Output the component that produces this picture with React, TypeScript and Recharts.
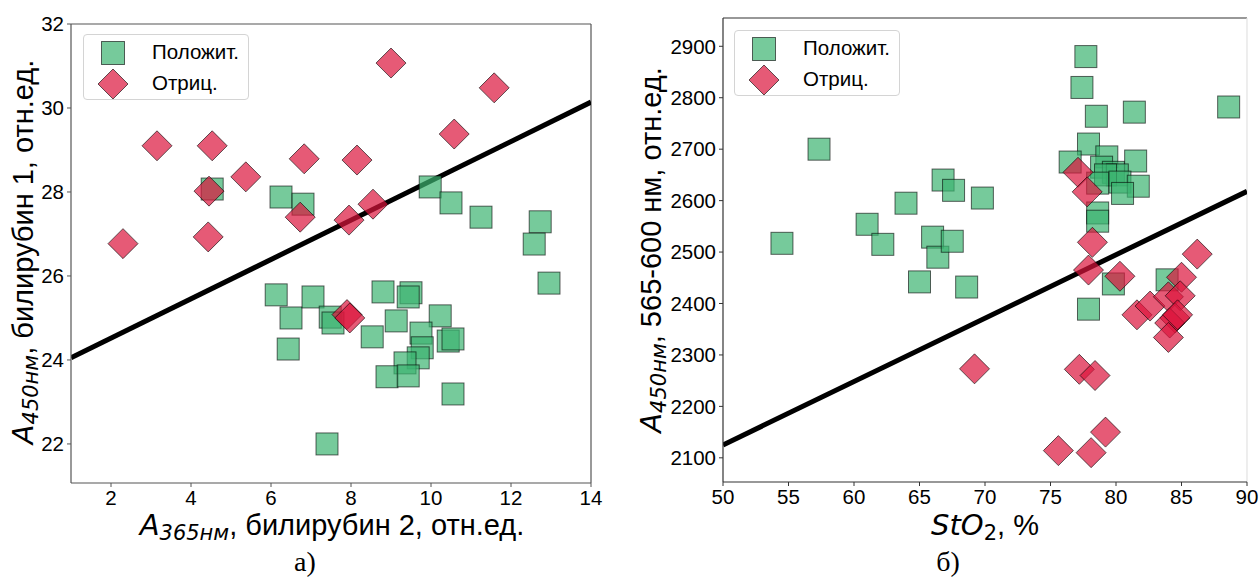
import React from 'react';
import { ScatterChart, Scatter, XAxis, YAxis, ReferenceLine, Legend } from 'recharts';

// ---------- data ----------
const SERIES_NAMES = ['Положит.', 'Отриц.'];

// panel а): [A365, A450]
const POS_A: [number, number][] = [
  [4.53, 28.07], [6.25, 27.88], [6.8, 27.71], [9.98, 28.12], [10.5, 27.74], [11.25, 27.4],
  [12.73, 27.29], [12.58, 26.76], [12.95, 25.83], [6.13, 25.55], [6.5, 25.0], [6.43, 24.26],
  [7.05, 25.5], [7.4, 22.0], [7.48, 25.02], [7.55, 24.88], [8.8, 25.62], [9.5, 25.6],
  [9.43, 25.5], [9.13, 24.93], [10.23, 25.05], [8.53, 24.55], [9.75, 24.64], [10.43, 24.45],
  [10.55, 24.5], [9.78, 24.29], [9.68, 24.05], [9.35, 23.93], [8.9, 23.6], [9.43, 23.62],
  [10.55, 23.19],
];
const NEG_A: [number, number][] = [
  [2.3, 26.77], [3.15, 29.1], [4.53, 29.1], [4.45, 28.02], [4.43, 26.93], [5.37, 28.36],
  [6.83, 28.79], [6.73, 27.4], [9.0, 31.07], [11.58, 30.48], [10.58, 29.38], [8.15, 28.76],
  [8.55, 27.71], [7.95, 27.33], [7.9, 25.08], [7.97, 25.0],
];
const FIT_A: [number, number][] = [[1, 24.05], [14, 30.14]];

// panel б): [StO2, A450 565-600]
const POS_B: [number, number][] = [
  [57.33, 2700], [54.5, 2517], [61.0, 2554], [62.2, 2515], [63.97, 2595], [65.0, 2442],
  [66.8, 2640], [67.6, 2620], [69.8, 2605], [66.0, 2529], [66.4, 2490], [67.5, 2521],
  [68.6, 2432], [77.7, 2880], [77.4, 2820], [78.5, 2764], [81.4, 2772], [88.6, 2782],
  [77.9, 2710], [76.5, 2675], [79.3, 2685], [81.5, 2677], [78.9, 2665], [79.8, 2655],
  [80.1, 2650], [79.2, 2650], [80.3, 2636], [81.7, 2628], [80.5, 2614], [78.6, 2634],
  [78.6, 2576], [78.6, 2560], [79.8, 2438], [83.9, 2446], [77.9, 2389],
];
const NEG_B: [number, number][] = [
  [77.1, 2655], [77.8, 2617], [78.2, 2519], [77.9, 2465], [80.3, 2453], [86.2, 2496],
  [85.0, 2451], [81.6, 2378], [82.6, 2395], [84.0, 2413], [84.9, 2415], [84.5, 2372],
  [84.1, 2362], [84.0, 2334], [84.7, 2378], [69.2, 2273], [77.2, 2272], [78.4, 2260],
  [79.2, 2150], [75.6, 2114], [78.1, 2110],
];
const FIT_B: [number, number][] = [[50, 2125], [90, 2618]];

const TICKS_AX = [2, 4, 6, 8, 10, 12, 14];
const TICKS_AY = [22, 24, 26, 28, 30, 32];
const TICKS_BX = [50, 55, 60, 65, 70, 75, 80, 85, 90];
const TICKS_BY = [2100, 2200, 2300, 2400, 2500, 2600, 2700, 2800, 2900];

// ---------- styles ----------
const GREEN = '#3cb371';
const RED = '#dc143c';
const SANS = '"Liberation Sans", Arial, sans-serif';
const MATH = '"DejaVu Sans", sans-serif';

const toPts = (arr: [number, number][]) => arr.map(([x, y]) => ({ x, y }));

const SquareShape = (props: any) => {
  const { cx, cy } = props;
  if (cx == null || cy == null) return null;
  const h = 11;
  return (
    <rect x={cx - h} y={cy - h} width={2 * h} height={2 * h}
      fill={GREEN} fillOpacity={0.7} stroke="#000" strokeOpacity={0.6} strokeWidth={1} />
  );
};
const DiamondShape = (props: any) => {
  const { cx, cy } = props;
  if (cx == null || cy == null) return null;
  const r = 15;
  return (
    <polygon points={`${cx},${cy - r} ${cx + r},${cy} ${cx},${cy + r} ${cx - r},${cy}`}
      fill={RED} fillOpacity={0.7} stroke="#000" strokeOpacity={0.6} strokeWidth={1} />
  );
};

const LegendBox = () => (
  <div style={{
    border: '1px solid #d4d4d4', borderRadius: 4, background: 'rgba(255,255,255,0.85)',
    width: 166, height: 66, position: 'relative', boxSizing: 'border-box',
    fontFamily: SANS, fontSize: 20.5, color: '#000',
  }}>
    <svg width={60} height={66} style={{ position: 'absolute', left: 0, top: 0 }}>
      <rect x={29 - 11.5} y={18 - 11.5} width={23} height={23} fill={GREEN} fillOpacity={0.7}
        stroke="#000" strokeOpacity={0.6} />
      <polygon points="29,34 44,49 29,64 14,49" fill={RED} fillOpacity={0.7}
        stroke="#000" strokeOpacity={0.6} />
    </svg>
    <div style={{ position: 'absolute', left: 68, top: 5, lineHeight: '24px', whiteSpace: 'nowrap' }}>{SERIES_NAMES[0]}</div>
    <div style={{ position: 'absolute', left: 68, top: 36, lineHeight: '24px', whiteSpace: 'nowrap' }}>{SERIES_NAMES[1]}</div>
  </div>
);

const tickStyle = { fontFamily: SANS, fontSize: 20.5, fill: '#000' };

type PanelProps = {
  width: number; height: number; margin: any;
  pos: [number, number][]; neg: [number, number][]; fit: [number, number][];
  xDomain: [number, number]; yDomain: [number, number];
  xTicks: number[]; yTicks: number[];
  frame: string; rightFrame: string; legendPos: { left: number; top: number };
};

const Panel = (p: PanelProps) => (
  <ScatterChart width={p.width} height={p.height} margin={p.margin}>
    <XAxis type="number" dataKey="x" domain={p.xDomain} ticks={p.xTicks} allowDataOverflow
      height={30} tickSize={4} tickMargin={3} tick={tickStyle}
      axisLine={{ stroke: p.frame, strokeWidth: 1.2 }} tickLine={{ stroke: p.frame }} />
    <YAxis type="number" dataKey="y" domain={p.yDomain} ticks={p.yTicks} allowDataOverflow
      width={60} tickSize={4} tickMargin={3} tick={tickStyle}
      axisLine={{ stroke: p.frame, strokeWidth: 1.2 }} tickLine={{ stroke: p.frame }} />
    <ReferenceLine y={p.yDomain[1]} stroke={p.frame} strokeWidth={1.2} />
    <ReferenceLine x={p.xDomain[1]} stroke={p.rightFrame} strokeWidth={1.2} />
    <Scatter name={SERIES_NAMES[0]} data={toPts(p.pos)} fill={GREEN} shape={SquareShape} isAnimationActive={false} />
    <Scatter name={SERIES_NAMES[1]} data={toPts(p.neg)} fill={RED} shape={DiamondShape} isAnimationActive={false} />
    <ReferenceLine segment={toPts(p.fit)} stroke="#000" strokeWidth={5} ifOverflow="hidden" />
    <Legend layout="vertical" align="center" verticalAlign="middle" content={() => <LegendBox />}
      wrapperStyle={{ left: p.legendPos.left, top: p.legendPos.top, width: 'auto', height: 'auto' }} />
  </ScatterChart>
);

const mathItalic: React.CSSProperties = { fontFamily: MATH, fontStyle: 'italic' };
const labelStyle: React.CSSProperties = { position: 'absolute', whiteSpace: 'nowrap', fontFamily: SANS, fontSize: 29 };
const subStyle: React.CSSProperties = { ...mathItalic, fontSize: 21, verticalAlign: '-5px' };

export default function App() {
  return (
    <div style={{ position: 'absolute', left: 0, top: 0, width: 1259, height: 577, background: '#fff', overflow: 'hidden' }}>
      {/* panel а */}
      <div style={{ position: 'absolute', left: 0, top: 0 }}>
        <Panel width={620} height={520} margin={{ top: 24, right: 29, left: 11, bottom: 7 }}
          pos={POS_A} neg={NEG_A} fit={FIT_A} xDomain={[1, 14]} yDomain={[21.07, 32]}
          xTicks={TICKS_AX} yTicks={TICKS_AY} frame="#555" rightFrame="#555"
          legendPos={{ left: 83, top: 34 }} />
      </div>
      {/* panel б */}
      <div style={{ position: 'absolute', left: 640, top: 0 }}>
        <Panel width={619} height={520} margin={{ top: 18, right: 12, left: 23, bottom: 8 }}
          pos={POS_B} neg={NEG_B} fit={FIT_B} xDomain={[50, 90]} yDomain={[2053, 2955]}
          xTicks={TICKS_BX} yTicks={TICKS_BY} frame="#333" rightFrame="#e2e2e2"
          legendPos={{ left: 94, top: 30 }} />
      </div>

      {/* axis labels */}
      <div style={{ ...labelStyle, left: 332, top: 526, transform: 'translate(-50%,-50%)' }}>
        <span style={mathItalic}>A</span><sub style={subStyle}>365нм</sub>, билирубин 2, отн.ед.
      </div>
      <div style={{ ...labelStyle, left: 985, top: 526, transform: 'translate(-50%,-50%)' }}>
        <span style={mathItalic}>StO</span><sub style={{ ...subStyle, fontStyle: 'normal' }}>2</sub>, %
      </div>
      <div style={{ ...labelStyle, left: 24, top: 252, transform: 'translate(-50%,-50%) rotate(-90deg)' }}>
        <span style={mathItalic}>A</span><sub style={subStyle}>450нм</sub>, билирубин 1, отн.ед.
      </div>
      <div style={{ ...labelStyle, left: 652, top: 250, transform: 'translate(-50%,-50%) rotate(-90deg)' }}>
        <span style={mathItalic}>A</span><sub style={subStyle}>450нм</sub>, 565-600 нм, отн.ед.
      </div>

      {/* subfigure captions */}
      <div style={{ position: 'absolute', left: 305, top: 562, transform: 'translate(-50%,-50%)', fontFamily: '"Liberation Serif", "Times New Roman", serif', fontSize: 28 }}>а)</div>
      <div style={{ position: 'absolute', left: 948, top: 562, transform: 'translate(-50%,-50%)', fontFamily: '"Liberation Serif", "Times New Roman", serif', fontSize: 28 }}>б)</div>
    </div>
  );
}
